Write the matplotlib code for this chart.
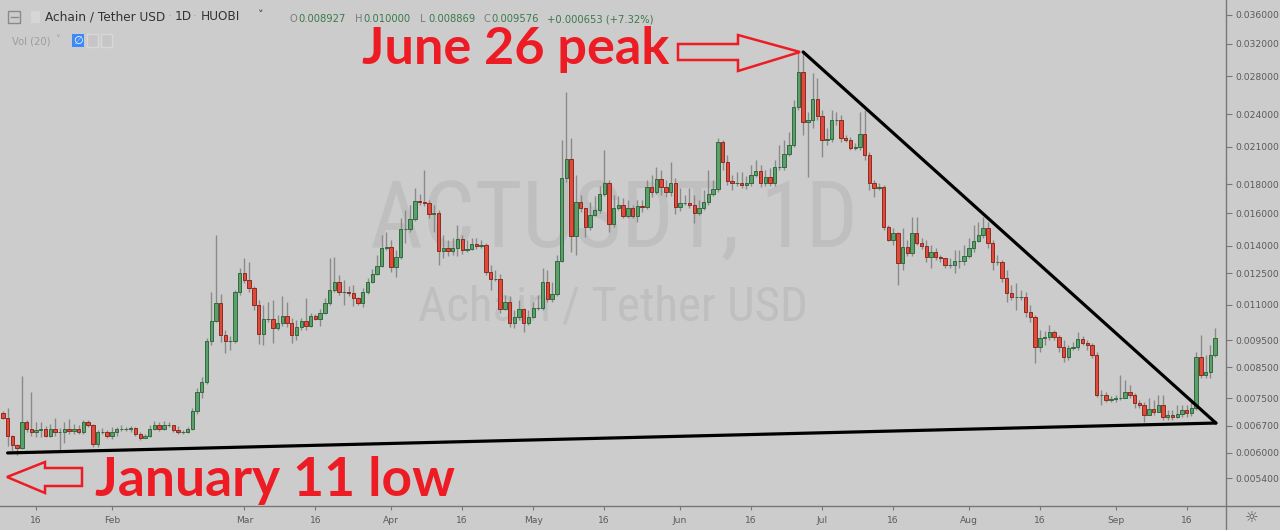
import matplotlib
matplotlib.use("Agg")
import matplotlib.pyplot as plt
import matplotlib.dates as mdates
from matplotlib.patches import Polygon, Rectangle
from matplotlib.lines import Line2D
from matplotlib.transforms import Affine2D
from matplotlib.ticker import NullLocator
from matplotlib import font_manager as fm
import numpy as np
import pandas as pd

# ---------------- data (ACT/USDT daily) ----------------
first_day = "2019-01-09"
first_open = 0.00706

close = [
    0.00691, 0.00642, 0.00619, 0.00611, 0.00680, 0.00661, 0.00653, 0.00658, 0.00661, 0.00642,
    0.00661, 0.00653, 0.00653, 0.00661, 0.00656, 0.00661, 0.00653, 0.00680, 0.00672, 0.00622,
    0.00653, 0.00653, 0.00642, 0.00653, 0.00661, 0.00661, 0.00661, 0.00664, 0.00648, 0.00637,
    0.00642, 0.00661, 0.00672, 0.00661, 0.00672, 0.00672, 0.00658, 0.00653, 0.00653, 0.00661,
    0.00711, 0.00769, 0.00801, 0.00948, 0.01028, 0.01107, 0.00971, 0.00948, 0.00948, 0.01158,
    0.01252, 0.01216, 0.01177, 0.01098, 0.00975, 0.01037, 0.01037, 0.00999, 0.01020, 0.01050,
    0.01020, 0.00971, 0.01004, 0.01028, 0.01008, 0.01050, 0.01037, 0.01063, 0.01107, 0.01168,
    0.01206, 0.01158, 0.01158, 0.01153, 0.01130, 0.01107, 0.01158, 0.01206, 0.01247, 0.01288,
    0.01387, 0.01392, 0.01283, 0.01337, 0.01499, 0.01499, 0.01562, 0.01681, 0.01674, 0.01667,
    0.01594, 0.01600, 0.01370, 0.01387, 0.01370, 0.01387, 0.01439, 0.01375, 0.01381, 0.01410,
    0.01398, 0.01404, 0.01257, 0.01222, 0.01222, 0.01080, 0.01112, 0.01020, 0.01045, 0.01080,
    0.01020, 0.01045, 0.01085, 0.01085, 0.01206, 0.01125, 0.01149, 0.01315, 0.01847, 0.01996,
    0.01457, 0.01674, 0.01633, 0.01511, 0.01587, 0.01620, 0.01730, 0.01810, 0.01530, 0.01633,
    0.01654, 0.01581, 0.01633, 0.01581, 0.01647, 0.01640, 0.01780, 0.01744, 0.01839, 0.01780,
    0.01744, 0.01810, 0.01640, 0.01667, 0.01667, 0.01654, 0.01600, 0.01633, 0.01674, 0.01730,
    0.01766, 0.02140, 0.01972, 0.01824, 0.01810, 0.01810, 0.01795, 0.01810, 0.01870, 0.01901,
    0.01810, 0.01855, 0.01810, 0.01932, 0.01932, 0.02038, 0.02114, 0.02470, 0.02851, 0.02323,
    0.02342, 0.02552, 0.02381, 0.02158, 0.02167, 0.02342, 0.02342, 0.02176, 0.02158, 0.02088,
    0.02097, 0.02212, 0.02029, 0.01810, 0.01773, 0.01780, 0.01511, 0.01433, 0.01475, 0.01304,
    0.01392, 0.01359, 0.01475, 0.01415, 0.01398, 0.01337, 0.01364, 0.01337, 0.01331, 0.01294,
    0.01294, 0.01315, 0.01315, 0.01342, 0.01387, 0.01427, 0.01463, 0.01505, 0.01415, 0.01310,
    0.01310, 0.01227, 0.01153, 0.01135, 0.01135, 0.01135, 0.01067, 0.01045, 0.00925, 0.00959,
    0.00963, 0.00983, 0.00963, 0.00925, 0.00887, 0.00921, 0.00925, 0.00955, 0.00940, 0.00932,
    0.00895, 0.00760, 0.00760, 0.00744, 0.00747, 0.00750, 0.00750, 0.00769, 0.00760, 0.00735,
    0.00729, 0.00700, 0.00717, 0.00709, 0.00729, 0.00694, 0.00700, 0.00694, 0.00703, 0.00714,
    0.00706, 0.00720, 0.00887, 0.00825, 0.00835, 0.00893, 0.00958,
]

high = [
    0.00711, 0.00720, 0.00645, 0.00622, 0.00821, 0.00686, 0.00769, 0.00680, 0.00680, 0.00669,
    0.00675, 0.00691, 0.00664, 0.00680, 0.00689, 0.00675, 0.00672, 0.00686, 0.00686, 0.00675,
    0.00658, 0.00664, 0.00658, 0.00666, 0.00666, 0.00672, 0.00666, 0.00669, 0.00666, 0.00653,
    0.00648, 0.00672, 0.00683, 0.00680, 0.00683, 0.00680, 0.00672, 0.00669, 0.00658, 0.00666,
    0.00720, 0.00782, 0.00818, 0.00959, 0.01158, 0.01463, 0.01149, 0.00991, 0.00967, 0.01168,
    0.01278, 0.01331, 0.01310, 0.01187, 0.01121, 0.01098, 0.01112, 0.01121, 0.01054, 0.01139,
    0.01112, 0.01041, 0.01033, 0.01041, 0.01130, 0.01063, 0.01058, 0.01080, 0.01130, 0.01331,
    0.01337, 0.01242, 0.01216, 0.01187, 0.01192, 0.01135, 0.01177, 0.01227, 0.01273, 0.01348,
    0.01463, 0.01481, 0.01433, 0.01375, 0.01568, 0.01620, 0.01654, 0.01773, 0.01730, 0.01909,
    0.01688, 0.01654, 0.01620, 0.01463, 0.01433, 0.01445, 0.01524, 0.01463, 0.01433, 0.01445,
    0.01445, 0.01433, 0.01415, 0.01294, 0.01267, 0.01247, 0.01144, 0.01139, 0.01076, 0.01121,
    0.01085, 0.01076, 0.01112, 0.01144, 0.01278, 0.01267, 0.01206, 0.01348, 0.02158, 0.02626,
    0.02176, 0.01870, 0.01723, 0.01633, 0.01674, 0.01716, 0.01787, 0.02071, 0.01832, 0.01723,
    0.01716, 0.01702, 0.01688, 0.01654, 0.01688, 0.01688, 0.01832, 0.01870, 0.01932, 0.01909,
    0.01832, 0.01972, 0.01847, 0.01773, 0.01723, 0.01773, 0.01723, 0.01688, 0.01758, 0.01909,
    0.01832, 0.02176, 0.02158, 0.02029, 0.01870, 0.01893, 0.01893, 0.01862, 0.01948, 0.01988,
    0.01948, 0.01909, 0.01924, 0.01988, 0.02114, 0.02158, 0.02230, 0.02542, 0.03094, 0.03094,
    0.02420, 0.02839, 0.02781, 0.02440, 0.02267, 0.02440, 0.02420, 0.02391, 0.02203, 0.02185,
    0.02132, 0.02420, 0.02440, 0.02054, 0.01832, 0.01810, 0.01795, 0.01524, 0.01505, 0.01481,
    0.01505, 0.01433, 0.01574, 0.01574, 0.01445, 0.01433, 0.01404, 0.01387, 0.01348, 0.01331,
    0.01331, 0.01375, 0.01375, 0.01404, 0.01445, 0.01524, 0.01543, 0.01574, 0.01543, 0.01430,
    0.01348, 0.01320, 0.01267, 0.01192, 0.01202, 0.01168, 0.01158, 0.01098, 0.01054, 0.00991,
    0.00987, 0.01012, 0.00991, 0.00971, 0.00952, 0.00932, 0.00944, 0.00983, 0.00967, 0.00952,
    0.00940, 0.00906, 0.00775, 0.00769, 0.00757, 0.00760, 0.00825, 0.00808, 0.00791, 0.00765,
    0.00744, 0.00738, 0.00750, 0.00744, 0.00760, 0.00760, 0.00714, 0.00714, 0.00729, 0.00729,
    0.00729, 0.00738, 0.00906, 0.00971, 0.00895, 0.00932, 0.01000,
]

low = [
    0.00689, 0.00617, 0.00604, 0.00594, 0.00609, 0.00653, 0.00642, 0.00640, 0.00640, 0.00640,
    0.00640, 0.00642, 0.00607, 0.00624, 0.00648, 0.00648, 0.00648, 0.00648, 0.00666, 0.00614,
    0.00614, 0.00648, 0.00637, 0.00634, 0.00642, 0.00656, 0.00656, 0.00653, 0.00642, 0.00632,
    0.00637, 0.00640, 0.00658, 0.00656, 0.00658, 0.00666, 0.00653, 0.00648, 0.00648, 0.00650,
    0.00658, 0.00703, 0.00750, 0.00795, 0.00932, 0.01024, 0.00944, 0.00902, 0.00913, 0.00940,
    0.01144, 0.01202, 0.01158, 0.01076, 0.00936, 0.00932, 0.01024, 0.00940, 0.00991, 0.01008,
    0.01004, 0.00940, 0.00952, 0.00991, 0.00991, 0.01004, 0.01033, 0.01008, 0.01058, 0.01098,
    0.01158, 0.01144, 0.01098, 0.01139, 0.01094, 0.01098, 0.01089, 0.01149, 0.01202, 0.01242,
    0.01283, 0.01375, 0.01257, 0.01232, 0.01326, 0.01415, 0.01481, 0.01549, 0.01654, 0.01647,
    0.01568, 0.01481, 0.01294, 0.01331, 0.01342, 0.01348, 0.01342, 0.01353, 0.01364, 0.01375,
    0.01381, 0.01387, 0.01242, 0.01168, 0.01211, 0.01063, 0.01076, 0.01004, 0.00999, 0.01033,
    0.00983, 0.01012, 0.01040, 0.01076, 0.01076, 0.01112, 0.01112, 0.01139, 0.01310, 0.01817,
    0.01364, 0.01348, 0.01607, 0.01451, 0.01493, 0.01581, 0.01600, 0.01716, 0.01481, 0.01511,
    0.01620, 0.01568, 0.01568, 0.01568, 0.01543, 0.01607, 0.01627, 0.01709, 0.01730, 0.01723,
    0.01709, 0.01716, 0.01594, 0.01613, 0.01654, 0.01633, 0.01536, 0.01587, 0.01620, 0.01654,
    0.01716, 0.01744, 0.01909, 0.01795, 0.01758, 0.01787, 0.01773, 0.01766, 0.01787, 0.01855,
    0.01780, 0.01787, 0.01787, 0.01787, 0.01909, 0.01909, 0.02021, 0.02097, 0.02440, 0.02203,
    0.01855, 0.02267, 0.02342, 0.02013, 0.02114, 0.02140, 0.02295, 0.02140, 0.02140, 0.02071,
    0.02071, 0.02071, 0.01988, 0.01758, 0.01709, 0.01758, 0.01493, 0.01427, 0.01404, 0.01192,
    0.01267, 0.01342, 0.01342, 0.01404, 0.01381, 0.01310, 0.01278, 0.01320, 0.01310, 0.01278,
    0.01278, 0.01252, 0.01278, 0.01294, 0.01331, 0.01364, 0.01421, 0.01445, 0.01387, 0.01267,
    0.01294, 0.01206, 0.01112, 0.01121, 0.01076, 0.01121, 0.01045, 0.01024, 0.00866, 0.00906,
    0.00932, 0.00952, 0.00952, 0.00906, 0.00870, 0.00877, 0.00913, 0.00913, 0.00932, 0.00913,
    0.00884, 0.00754, 0.00729, 0.00738, 0.00738, 0.00738, 0.00744, 0.00750, 0.00750, 0.00720,
    0.00720, 0.00680, 0.00700, 0.00700, 0.00709, 0.00686, 0.00686, 0.00686, 0.00691, 0.00694,
    0.00694, 0.00697, 0.00714, 0.00815, 0.00815, 0.00815, 0.00887,
]

# price axis labels
y_ticks = [0.0054, 0.0060, 0.0067, 0.0075, 0.0085, 0.0095, 0.0110, 0.0125,
           0.0140, 0.0160, 0.0180, 0.0210, 0.0240, 0.0280, 0.0320, 0.0360]
# time axis labels
x_tick_dates = ["2019-01-16", "2019-02-01", "2019-03-01", "2019-03-16", "2019-04-01",
                "2019-04-16", "2019-05-01", "2019-05-16", "2019-06-01", "2019-06-16",
                "2019-07-01", "2019-07-16", "2019-08-01", "2019-08-16", "2019-09-01",
                "2019-09-16"]
x_tick_labels = ["16", "Feb", "Mar", "16", "Apr", "16", "May", "16", "Jun", "16",
                 "Jul", "16", "Aug", "16", "Sep", "16"]

# drawn trend lines (date, price)
line_top = [("2019-06-27 00:00", 0.03094), ("2019-09-22 04:00", 0.00677)]
line_bottom = [("2019-01-10 00:00", 0.00599), ("2019-09-22 04:00", 0.00677)]

# -------------------------------------------------------------------------
W, H = 1280, 530
BG = "#cccccc"
RED = "#ed1c24"
AXC = "#777777"


def pick(fams):
    for f in fams:
        try:
            fm.findfont(fm.FontProperties(family=f), fallback_to_default=False)
            return f
        except ValueError:
            pass
    return "DejaVu Sans"


narrow = pick(["Liberation Sans Narrow", "Roboto Condensed", "Open Sans Condensed",
               "Liberation Sans"])
humanist = pick(["Lato", "Open Sans", "Liberation Sans"])

fig = plt.figure(figsize=(W / 100, H / 100), dpi=100, facecolor=BG)
ax = fig.add_axes([0, 24 / H, 1226 / W, 506 / H])
ax.set_facecolor(BG)
# image-pixel coordinates (y downward) for decorations
px = Affine2D().scale(1 / W, -1 / H).translate(0, 1) + fig.transFigure

dates = pd.date_range(first_day, periods=len(close), freq="D")
x = mdates.date2num(dates)
c = np.array(close)
o = np.concatenate([[first_open], c[:-1]])
hi = np.array(high)
lo = np.array(low)
up = c >= o

ax.set_yscale("log")
ax.vlines(x, lo, hi, color="#8a8a8a", lw=1, zorder=2)
ax.bar(x, np.abs(c - o), bottom=np.minimum(o, c), width=0.72,
       color=np.where(up, "#5c9e6c", "#e04a3a"),
       edgecolor=np.where(up, "#2f6b3d", "#8f2a20"), linewidth=0.7, zorder=3)

# trend lines
for ln in (line_top, line_bottom):
    lx = mdates.date2num(pd.to_datetime([p[0] for p in ln], format="%Y-%m-%d %H:%M"))
    ly = [p[1] for p in ln]
    ax.plot(lx, ly, color="black", lw=2.3, solid_capstyle="round", zorder=4)

base = mdates.date2num(pd.Timestamp("2019-01-01"))
ax.set_xlim(base + 7.39, base + 266.3)
ax.set_ylim(0.00482, 0.03828)

ax.yaxis.tick_right()
ax.set_yticks(y_ticks)
ax.set_yticklabels([f"{v:.6f}" for v in y_ticks])
ax.yaxis.set_minor_locator(NullLocator())
ax.set_xticks(mdates.date2num(pd.to_datetime(x_tick_dates)))
ax.set_xticklabels(x_tick_labels)
ax.xaxis.set_minor_locator(NullLocator())
ax.tick_params(axis="y", direction="out", length=4, width=0.8, color=AXC,
               labelsize=6.6, labelcolor="#5a5a5a", pad=3)
ax.tick_params(axis="x", direction="out", length=3, width=0.8, color=AXC,
               labelsize=6.6, labelcolor="#5a5a5a", pad=4)
for s in ax.spines.values():
    s.set_visible(False)

fig.add_artist(Line2D([1226, 1226], [0, H], transform=px, color=AXC, lw=1))
fig.add_artist(Line2D([0, W], [506, 506], transform=px, color=AXC, lw=1))
fig.text(1252, 518, "\u263c", transform=px, ha="center", va="center",
         fontsize=11, color="#555555")

# watermark
wm1 = ax.text(614, 248, "ACTUSDT, 1D", transform=px, ha="center", va="baseline",
              fontsize=60, color="#bfbfbf", family=narrow, zorder=0.5)
wm2 = ax.text(613, 320, "Achain / Tether USD", transform=px, ha="center", va="baseline",
              fontsize=30, color="#bfbfbf", family=narrow, zorder=0.5)

# header
fig.add_artist(Rectangle((8, 11), 12, 12, transform=px, fill=False, ec="#8a8a8a", lw=1))
fig.add_artist(Line2D([10.5, 17.5], [17, 17], transform=px, color="#8a8a8a", lw=1))
fig.add_artist(Rectangle((31, 11), 9, 12, transform=px, fc="#d6d6d6", ec="none"))
fig.text(45, 17, "Achain / Tether USD", transform=px, va="center", fontsize=8.7, color="#333333")
fig.text(168, 17, "\u00b7", transform=px, va="center", fontsize=8.7, color="#a8a8a8")
fig.text(175, 17, "1D", transform=px, va="center", fontsize=8.7, color="#333333")
fig.text(193, 17, "\u00b7", transform=px, va="center", fontsize=8.7, color="#a8a8a8")
fig.text(201, 17, "HUOBI", transform=px, va="center", fontsize=8.7, color="#333333")
fig.text(258, 15, "\u02c5", transform=px, va="center", fontsize=8, color="#333333")

ohlc = [(290, "O", "0.008927"), (355, "H", "0.010000"), (420, "L", "0.008869"),
        (483, "C", "0.009576")]
for xx, k, v in ohlc:
    fig.text(xx, 19, k, transform=px, va="center", fontsize=7.2, color="#7d7d7d")
    fig.text(xx + 8, 19, v, transform=px, va="center", fontsize=7.2, color="#3b7a4c")
fig.text(547, 19, "+0.000653 (+7.32%)", transform=px, va="center", fontsize=7.2,
         color="#3b7a4c")

fig.text(12, 41, "Vol (20)", transform=px, va="center", fontsize=7.2, color="#9c9c9c")
fig.text(55, 40, "\u02c5", transform=px, va="center", fontsize=7, color="#9c9c9c")
fig.add_artist(Rectangle((72, 34), 12, 13, transform=px, fc="#3d8af7", ec="none"))
fig.text(78, 40.5, "\u2205", transform=px, ha="center", va="center", fontsize=8,
         color="white")
for bx in (87, 101):
    fig.add_artist(Rectangle((bx, 34), 11, 13, transform=px, fc="#c6c6c6", ec="#d8d8d8", lw=1))

# red annotations
t1 = fig.text(362, 64, "June 26 peak", transform=px, ha="left", va="baseline",
              fontsize=42, color=RED, family=humanist, fontweight="bold")
t2 = fig.text(95, 496, "January 11 low", transform=px, ha="left", va="baseline",
              fontsize=42, color=RED, family=humanist, fontweight="bold")
arrow_r = [(678, 44), (738, 44), (738, 35), (800, 52), (738, 71), (738, 60), (678, 60)]
arrow_l = [(7, 477), (45, 462), (45, 468), (82, 468), (82, 486), (45, 486), (45, 493)]
for verts in (arrow_r, arrow_l):
    fig.add_artist(Polygon(verts, closed=True, fill=False, ec=RED, lw=1.8,
                           joinstyle="miter", transform=px))

# size the big texts to the widths they have in the picture
fig.canvas.draw()
for t, wpx in ((wm1, 488), (wm2, 390), (t1, 307), (t2, 360)):
    w = t.get_window_extent().width
    t.set_fontsize(t.get_fontsize() * wpx / w)

fig.savefig("out.png", dpi=100, facecolor=BG)
